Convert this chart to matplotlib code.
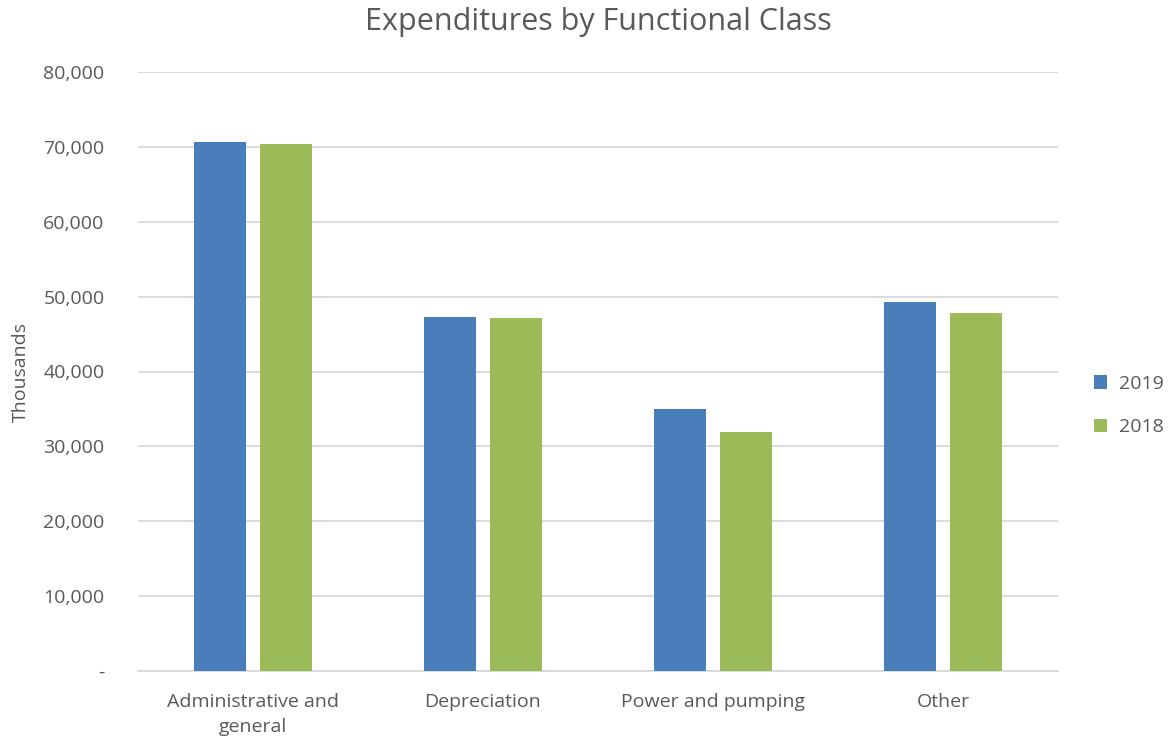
import matplotlib.pyplot as plt
import numpy as np
from matplotlib.ticker import FuncFormatter

categories = ["Administrative and\ngeneral", "Depreciation", "Power and pumping", "Other"]
values_2019 = [70600, 47300, 35000, 49300]
values_2018 = [70400, 47200, 31900, 47800]
series_labels = ["2019", "2018"]
colors = ["#4a7ebb", "#9bbb59"]

text_color = "#595959"
plt.rcParams["font.family"] = ["Open Sans", "DejaVu Sans"]

fig = plt.figure(figsize=(11.72, 7.43), dpi=100)
ax = fig.add_axes([0.1177, 0.0969, 0.785, 0.8062])

x = np.arange(len(categories))
width = 0.226
ax.bar(x - 0.143, values_2019, width, color=colors[0], label=series_labels[0], zorder=3)
ax.bar(x + 0.142, values_2018, width, color=colors[1], label=series_labels[1], zorder=3)

ax.set_xlim(-0.5, len(categories) - 0.5)
ax.set_ylim(0, 80000)
ax.set_yticks(range(0, 80001, 10000))
ax.yaxis.set_major_formatter(FuncFormatter(lambda v, p: "-" if v == 0 else f"{v:,.0f}"))
ax.grid(axis="y", color="#d9d9d9", linewidth=1.3, zorder=0)
for s in ["top", "right", "left"]:
    ax.spines[s].set_visible(False)
ax.spines["bottom"].set_color("#d9d9d9")
ax.spines["bottom"].set_linewidth(1.3)
ax.tick_params(length=0, colors=text_color, labelsize=14)
ax.tick_params(axis="y", pad=24)
ax.tick_params(axis="x", pad=16)
ax.set_xticks(x)
ax.set_xticklabels(categories, color=text_color, fontsize=14, linespacing=1.45)

ax.set_ylabel("Thousands", color=text_color, fontsize=14, labelpad=10)
ax.set_title("Expenditures by Functional Class", color=text_color, fontsize=22, pad=30)

ax.legend(loc="center left", bbox_to_anchor=(1.02, 0.443), frameon=False,
          fontsize=14, labelcolor=text_color, handlelength=0.7, handleheight=0.7,
          labelspacing=1.3, handletextpad=0.6)

fig.savefig("out.png", dpi=100)
